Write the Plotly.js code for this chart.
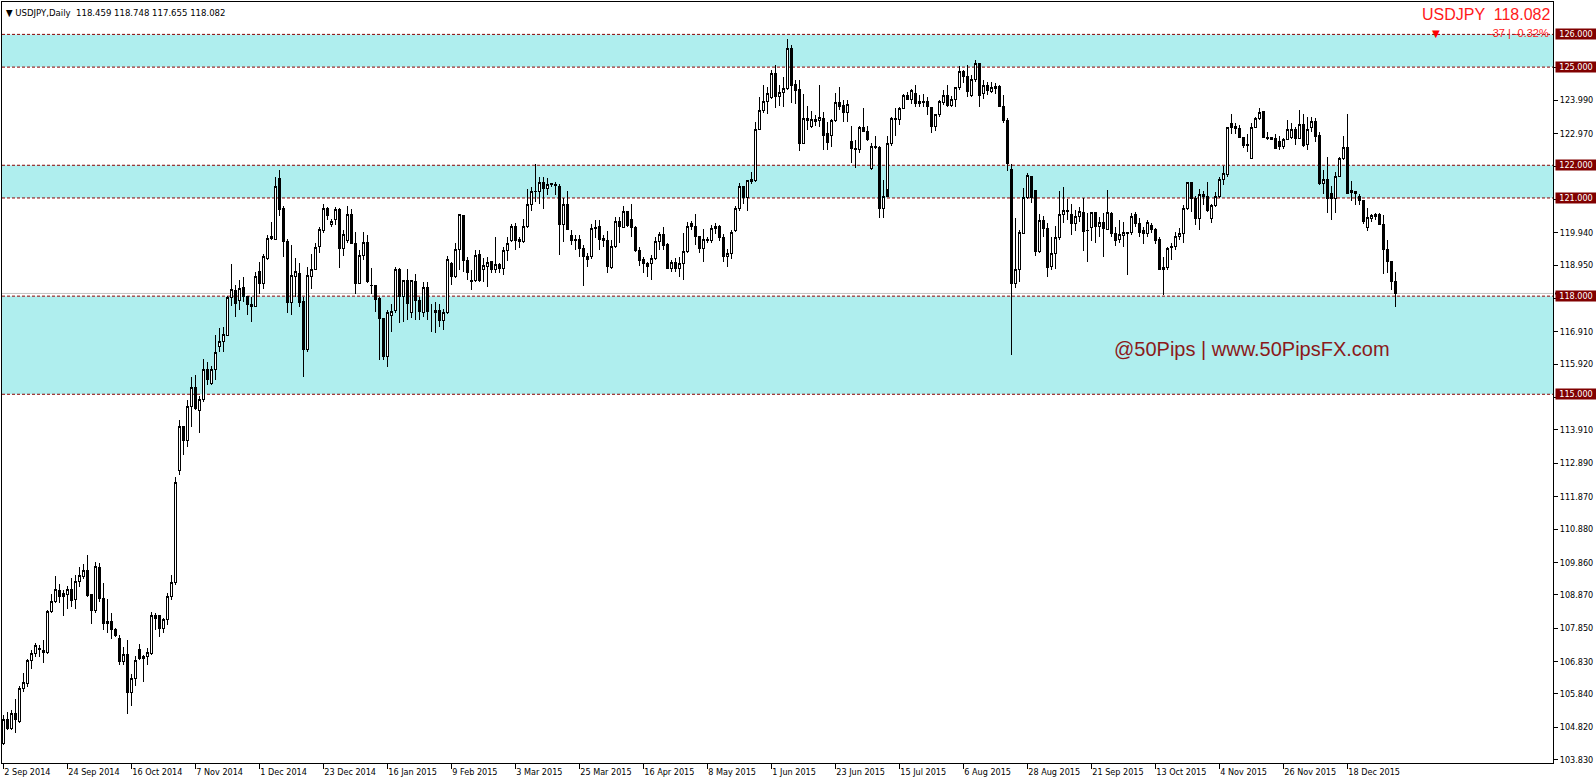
<!DOCTYPE html>
<html><head><meta charset="utf-8">
<script src="https://cdn.plot.ly/plotly-3.0.1.min.js"></script>
<style>
html,body{margin:0;padding:0;background:#fff;overflow:hidden;}
#chart{width:1596px;height:784px;}
path.box{shape-rendering:crispEdges;}
</style>
</head><body><div id="chart"></div>
<script>
// ---- OHLC values (USDJPY daily, 2 Sep 2014 - 7 Jan 2016) ----
const openP = [
104.33,105.06,104.79,105.25,104.99,106.01,106.16,106.85,107.08,107.20,
107.18,107.10,108.35,108.66,109.01,108.91,108.88,109.03,108.73,109.27,
109.44,109.61,108.88,108.40,109.71,108.76,107.99,108.07,107.81,107.54,
106.82,107.05,105.88,106.31,107.20,106.93,106.99,107.08,108.25,108.25,
107.84,108.12,108.83,109.24,112.66,114.03,113.58,114.62,115.21,114.50,
114.84,115.76,115.33,115.76,116.45,116.60,116.81,117.96,118.18,117.88,
118.27,117.98,117.73,117.68,118.75,118.39,119.15,119.77,119.73,121.60,
120.68,119.68,117.80,118.61,118.69,117.83,116.37,118.61,118.82,119.51,
120.02,120.68,120.20,120.34,120.65,119.46,119.71,120.51,119.61,118.39,
119.24,119.63,118.34,118.34,117.93,117.32,116.15,117.42,117.57,118.80,
117.98,118.49,117.49,118.44,117.88,117.49,118.27,117.52,117.50,117.57,
117.27,117.49,119.00,118.61,119.43,120.45,119.10,118.49,118.49,119.26,
118.80,118.92,119.05,118.82,118.97,118.84,119.39,119.71,120.14,119.74,
119.66,120.12,120.80,121.19,121.19,121.47,121.29,121.45,121.42,121.36,
120.19,120.81,119.84,119.74,119.74,119.46,119.22,119.20,120.07,120.14,
119.76,119.71,118.88,119.53,120.27,120.10,120.58,120.33,120.10,119.41,
119.12,119.00,119.00,119.15,119.66,119.89,119.59,118.85,119.02,118.85,
119.00,119.36,120.22,120.14,119.82,119.46,119.74,119.71,120.07,120.12,
119.80,119.20,119.30,120.02,120.68,121.36,121.02,121.50,121.52,123.10,
123.66,123.96,124.06,124.79,124.09,124.23,124.35,125.57,124.47,124.32,
122.67,123.43,123.20,123.33,123.38,123.43,122.97,122.92,123.36,123.91,
123.84,123.60,122.72,122.49,122.49,123.16,123.02,121.90,122.57,122.55,
120.68,121.04,122.67,123.43,123.40,123.74,124.13,124.01,124.18,123.89,
123.96,123.94,123.77,123.20,123.56,123.91,124.14,123.84,124.01,124.38,
124.86,124.71,124.14,124.62,125.11,124.20,124.45,124.25,124.40,124.42,
123.81,123.38,121.87,118.39,118.82,119.92,121.02,121.65,121.24,119.36,
120.32,120.07,118.90,119.29,119.80,120.51,120.63,120.51,120.22,120.43,
120.55,120.02,120.10,120.55,120.14,120.24,120.04,120.53,119.92,119.73,
119.84,119.92,119.94,120.48,120.22,120.02,119.92,120.17,120.04,119.73,
118.80,118.88,119.49,119.51,119.82,119.92,120.68,121.47,120.99,120.38,
121.12,121.06,120.38,120.76,121.04,121.57,121.73,123.28,123.18,123.13,
122.85,122.59,122.21,123.16,123.43,123.64,122.85,122.85,122.82,122.72,
122.57,122.79,122.85,123.10,122.82,123.26,122.62,123.16,123.33,122.92,
121.43,121.55,121.14,120.99,121.67,122.21,122.55,121.24,121.14,121.06,
120.92,120.10,120.38,120.43,120.51,120.20,119.43,119.05,118.459
];
const highP = [
105.19,105.30,105.35,105.70,106.08,106.47,106.90,107.18,107.40,107.33,
107.49,108.40,108.91,109.44,109.20,109.01,109.14,109.37,109.47,109.73,
109.81,110.08,108.91,109.88,109.83,109.22,108.73,108.30,107.86,107.64,
107.28,107.49,106.44,106.99,107.38,107.03,107.25,108.35,108.32,108.25,
108.15,108.93,109.47,112.46,114.21,114.03,114.84,115.53,115.59,114.94,
116.09,115.99,115.86,116.81,117.04,117.06,118.00,118.98,118.34,118.49,
118.57,117.98,117.98,118.75,119.05,119.30,119.87,120.27,121.65,121.85,
120.75,119.75,119.56,119.18,119.00,117.98,118.90,119.30,119.61,120.10,
120.81,120.73,120.37,120.73,120.68,120.02,120.75,120.65,119.97,119.41,
119.97,119.86,118.85,118.34,117.98,117.32,117.57,117.77,118.88,118.85,
118.49,118.82,118.49,118.69,117.98,118.44,118.44,117.75,117.83,117.75,
117.62,119.22,119.05,119.61,120.50,120.48,119.20,118.80,119.41,119.41,
119.18,119.20,119.08,119.82,119.02,119.51,119.80,120.20,120.22,119.80,
120.35,121.26,121.34,122.04,121.65,121.65,121.60,121.47,121.50,121.43,
120.99,121.22,120.02,119.87,119.87,119.56,119.33,120.20,120.33,120.33,
119.87,120.00,119.71,120.41,120.43,120.75,120.61,120.83,120.14,119.49,
119.20,119.05,119.26,119.82,119.97,120.10,119.61,119.10,119.18,119.20,
119.92,120.27,120.30,120.51,119.84,120.04,119.82,120.17,120.25,120.18,
119.90,119.45,120.02,120.75,121.47,121.36,121.53,121.78,123.33,124.09,
124.45,124.40,124.91,125.06,124.45,124.70,125.86,125.67,124.60,124.62,
124.18,123.81,123.67,123.53,124.45,123.64,123.33,123.40,124.22,124.38,
123.99,123.99,123.20,122.77,123.20,123.74,123.20,122.67,122.89,122.60,
121.56,122.89,123.46,123.74,123.77,124.18,124.25,124.32,124.45,124.14,
124.18,124.09,123.79,123.58,124.01,124.30,124.45,124.11,124.40,125.03,
124.91,125.06,124.76,125.23,125.11,124.60,124.55,124.55,124.52,124.45,
124.14,123.43,122.04,120.38,120.02,121.29,121.75,121.67,121.24,120.51,
120.45,120.24,119.82,120.14,121.22,121.34,120.96,120.83,120.63,120.71,
120.99,120.55,120.58,120.58,120.43,120.53,121.24,120.58,120.12,120.32,
120.27,119.97,120.55,120.58,120.38,120.12,120.32,120.24,120.07,119.82,
119.20,119.51,119.63,119.97,120.07,120.78,121.50,121.47,121.06,121.26,
121.22,121.50,120.83,121.19,121.65,121.98,123.18,123.58,123.28,123.23,
122.87,122.97,123.28,123.48,123.74,123.67,123.03,122.87,122.95,122.89,
122.82,123.38,123.28,123.18,123.69,123.56,123.48,123.46,123.43,123.03,
121.87,122.24,121.36,121.80,122.26,122.89,123.57,121.53,121.19,121.12,
120.92,120.68,120.51,120.55,120.55,120.48,119.71,119.08,118.748
];
const lowP = [
104.28,104.74,104.74,104.65,104.94,105.91,106.06,106.59,106.98,106.98,
106.79,107.06,108.30,108.61,108.61,108.22,108.45,108.51,108.45,109.12,
109.34,108.81,107.99,108.30,108.66,107.79,107.69,107.51,107.59,106.72,
106.72,105.23,105.47,106.08,106.88,106.21,106.72,107.03,107.79,107.59,
107.69,107.94,108.71,109.17,112.53,113.14,113.40,114.01,114.52,113.83,
114.77,115.28,115.28,115.43,116.30,116.30,116.78,117.69,117.35,117.57,
117.83,117.42,117.22,117.68,118.08,118.21,119.10,119.71,119.71,120.45,
119.20,117.47,117.42,117.98,117.68,115.54,116.30,118.23,118.80,119.31,
119.93,120.32,120.12,120.17,118.85,119.22,119.61,119.61,118.08,118.39,
119.10,118.39,118.08,117.52,116.06,116.04,115.84,116.91,117.49,117.17,
117.22,117.27,117.32,117.27,117.27,117.37,117.27,116.91,116.86,117.06,
116.98,117.45,118.34,118.54,118.80,118.75,118.49,118.18,118.44,118.44,
118.44,118.29,118.72,118.72,118.70,118.64,119.08,119.66,119.41,119.46,
119.61,120.07,120.61,120.88,120.83,120.65,121.09,121.34,121.09,119.26,
119.66,120.02,119.56,119.41,119.20,118.31,118.90,119.15,119.77,119.41,
119.51,118.72,118.82,119.46,119.61,120.07,120.10,119.82,119.36,118.92,
118.72,118.57,118.49,119.10,119.41,119.41,118.82,118.75,118.75,118.59,
118.49,119.31,120.02,119.56,119.31,119.05,119.61,119.61,119.90,119.70,
119.05,118.90,119.15,119.95,120.61,120.83,120.61,121.42,121.50,123.08,
123.61,123.58,124.03,123.74,123.81,123.77,124.30,123.89,123.87,122.44,
122.65,123.08,123.13,123.20,123.18,122.48,122.48,122.55,123.33,123.69,
123.33,123.33,122.08,121.93,122.36,123.02,122.75,121.85,122.50,120.40,
120.40,121.26,122.60,122.89,123.23,123.71,123.99,123.87,123.77,123.77,
123.77,123.53,122.99,123.05,123.48,123.84,123.79,123.79,123.79,124.30,
124.52,124.09,124.09,124.55,123.79,124.04,124.14,124.20,124.17,123.79,
123.30,121.83,116.20,118.24,118.44,119.90,120.96,120.85,119.23,119.31,
119.82,118.57,118.80,118.82,119.73,120.22,120.32,119.87,120.00,120.27,
119.39,119.05,119.69,119.63,119.82,119.20,120.02,119.82,119.53,119.61,
119.51,118.64,119.87,120.12,119.82,119.59,119.82,119.92,119.59,118.80,
118.03,118.80,119.10,119.41,119.73,119.61,120.63,120.58,120.17,120.02,
120.78,120.58,120.24,120.71,120.99,121.40,121.63,122.97,122.95,122.82,
122.52,122.41,122.18,123.13,123.38,122.82,122.77,122.77,122.49,122.46,
122.49,122.77,122.79,122.62,122.79,122.57,122.46,123.03,122.72,121.39,
121.12,120.53,120.33,120.55,121.63,122.16,121.12,120.92,120.78,120.78,
120.20,120.00,120.27,120.33,120.17,118.69,118.71,118.18,117.655
];
const closeP = [
105.06,104.79,105.25,105.06,106.01,106.18,106.85,107.08,107.31,107.24,
107.10,108.37,108.68,109.03,108.81,108.83,109.03,108.71,109.27,109.47,
109.61,108.86,108.40,109.73,108.76,107.99,108.07,107.81,107.64,106.82,
107.05,105.88,106.31,106.87,106.93,107.00,107.10,108.25,108.15,107.84,
108.12,108.83,109.24,112.29,114.03,113.58,114.64,115.21,114.57,114.84,
115.76,115.45,115.76,116.27,116.62,116.83,117.96,118.20,117.78,118.23,
117.98,117.73,117.68,118.61,118.39,119.20,119.76,119.82,121.36,120.65,
119.66,117.80,118.64,118.75,117.80,116.37,118.64,118.82,119.49,120.05,
120.68,120.45,120.27,120.65,119.46,119.89,120.51,119.61,118.39,119.24,
119.63,118.44,118.32,117.90,117.32,116.15,117.50,117.52,118.80,117.98,
118.49,117.78,118.49,117.88,117.52,118.27,117.52,117.52,117.57,117.27,
117.50,119.13,118.61,119.43,120.48,119.08,118.72,118.44,119.24,118.49,
118.95,119.02,118.82,118.97,118.84,119.41,119.61,120.14,119.69,119.66,
120.14,120.81,121.21,121.21,121.47,121.29,121.42,121.40,121.37,120.19,
120.81,120.04,119.69,119.71,119.46,119.20,119.12,120.07,120.10,119.74,
119.69,118.92,119.53,120.27,120.12,120.58,120.17,120.10,119.39,119.10,
119.00,118.92,119.15,119.66,119.89,119.56,118.85,119.02,118.85,119.00,
119.36,120.14,120.14,119.82,119.46,119.74,119.69,120.07,120.12,119.80,
119.20,119.30,119.95,120.68,121.36,121.02,121.53,121.55,123.10,123.66,
123.96,124.18,124.79,124.09,124.23,124.35,125.57,124.45,124.30,122.67,
123.43,123.36,123.40,123.40,123.45,122.92,122.69,123.38,123.91,123.81,
123.60,123.86,122.52,122.52,123.16,123.02,122.79,122.57,122.55,120.68,
121.04,122.67,123.43,123.40,123.74,124.13,124.01,124.27,123.89,123.96,
123.91,123.79,123.20,123.56,123.94,124.14,123.84,124.01,124.38,124.86,
124.71,124.25,124.62,125.11,124.14,124.45,124.30,124.38,124.35,123.81,
123.38,122.04,118.39,118.82,119.94,121.02,121.70,121.02,119.36,120.32,
120.07,118.88,119.29,119.80,120.51,120.63,120.58,120.22,120.43,120.58,
119.97,120.00,120.55,120.12,120.24,120.07,120.55,119.92,119.71,119.87,
119.94,119.94,120.43,120.22,119.94,119.92,120.24,120.04,119.71,118.80,
118.88,119.46,119.51,119.82,119.92,120.68,121.47,120.99,120.38,121.12,
121.04,120.61,120.76,121.06,121.57,121.75,123.16,123.16,123.13,122.85,
122.59,122.62,123.16,123.43,123.61,122.85,122.82,122.79,122.52,122.57,
122.79,123.10,123.10,122.82,123.26,122.59,123.10,123.33,122.89,121.43,
121.55,120.99,120.99,121.67,122.21,122.55,121.14,121.16,121.19,120.92,
120.27,120.41,120.45,120.51,120.20,119.43,119.05,118.44,118.082
];
// axis labels
const dateLabels = ["2 Sep 2014","24 Sep 2014","16 Oct 2014","7 Nov 2014","1 Dec 2014","23 Dec 2014",
  "16 Jan 2015","9 Feb 2015","3 Mar 2015","25 Mar 2015","16 Apr 2015","8 May 2015","1 Jun 2015",
  "23 Jun 2015","15 Jul 2015","6 Aug 2015","28 Aug 2015","21 Sep 2015","13 Oct 2015","4 Nov 2015",
  "26 Nov 2015","18 Dec 2015"];
const priceTicks = [103.83,104.82,105.84,106.83,107.85,108.87,109.86,110.88,111.87,112.89,113.91,
  114.90,115.92,116.91,117.93,118.95,119.94,120.96,121.95,122.97,123.99,124.98];
const zones = [[125,126],[121,122],[115,118]];
const levels = [126,125,122,121,118,115];
const lastPrice = 118.082;
const headerText = "USDJPY,Daily  118.459 118.748 117.655 118.082";
const changeText = "-37 | -0.32%";
const watermark = "@50Pips | www.50PipsFX.com";

// trading days (weekdays, without 25 Dec / 1 Jan)
const holidays = new Set(["2014-12-25","2015-01-01","2015-12-25","2016-01-01"]);
const dates = [];
{ let d = new Date(Date.UTC(2014,8,2));
  while (dates.length < closeP.length) {
    const wd = d.getUTCDay(); const s = d.toISOString().slice(0,10);
    if (wd !== 0 && wd !== 6 && !holidays.has(s)) dates.push(s);
    d.setUTCDate(d.getUTCDate()+1);
  } }
const xIdx = dates.map((_, i) => i);
const labelIdx = dateLabels.map((_, k) => k * 16);

const F = 'Tahoma, "DejaVu Sans Condensed", "Liberation Sans", sans-serif';

// tick labels hidden under the level boxes are left blank
const tickText = priceTicks.map(v => levels.some(l => Math.abs(l - v) < 0.12) ? '' : v.toFixed(3));

const shapes = [];
zones.forEach(z => shapes.push({type:'rect', xref:'paper', yref:'y', x0:0, x1:1, y0:z[0], y1:z[1],
  fillcolor:'#AFEEEE', line:{width:0}, layer:'below'}));
shapes.push({type:'line', xref:'paper', yref:'y', x0:0, x1:1, y0:lastPrice, y1:lastPrice,
  line:{color:'#C0C0C0', width:1}, layer:'below'});
levels.forEach(v => shapes.push({type:'line', xref:'paper', yref:'y', x0:0, x1:1, y0:v, y1:v,
  line:{color:'#8B0000', width:1, dash:'3px,2px'}, layer:'below'}));
// current price marker edge on axis
shapes.push({type:'rect', xref:'paper', yref:'y', x0:1+2/1551, x1:1+43/1551, y0:lastPrice-0.03, y1:lastPrice+0.03,
  fillcolor:'#000', line:{width:0}});

const annotations = [];
levels.forEach(v => annotations.push({xref:'paper', yref:'y', x:1, y:v, xanchor:'left', yanchor:'middle',
  xshift:2, text:v.toFixed(3), showarrow:false, bgcolor:'#800000', width:40, height:10, borderpad:0,
  align:'center', valign:'middle', font:{family:F, size:9, color:'#fff'}}));
annotations.push({xref:'paper', yref:'paper', x:0, y:1, xanchor:'left', yanchor:'top', xshift:2, yshift:-3,
  text:'▼ ' + headerText, showarrow:false, font:{family:F, size:9.5, color:'#000'}});
annotations.push({xref:'paper', yref:'paper', x:1, y:1, xanchor:'right', yanchor:'top', xshift:-1, yshift:-2,
  text:'USDJPY  ' + lastPrice.toFixed(3), showarrow:false,
  font:{family:'"Liberation Sans", Arial, sans-serif', size:16, color:'#FF1A1A'}});
annotations.push({xref:'paper', yref:'y', x:1, y:126, xanchor:'right', yanchor:'middle', xshift:-2, yshift:1,
  text:changeText, showarrow:false, font:{family:'"Liberation Sans", Arial, sans-serif', size:11, color:'#FF1A1A'}});
annotations.push({xref:'paper', yref:'y', x:(1436-2)/1551, y:126, xanchor:'center', yanchor:'middle', yshift:1,
  text:'▼', showarrow:false, font:{family:'"DejaVu Sans", sans-serif', size:10, color:'#FF0000'}});
annotations.push({xref:'paper', yref:'paper', x:(1112-2)/1551, y:1-(349-2)/761, xanchor:'left', yanchor:'middle',
  text:watermark, showarrow:false, font:{family:'"Liberation Sans", Arial, sans-serif', size:20, color:'#8B1A1A'}});

const trace = {
  type:'candlestick', x:xIdx, open:openP, high:highP, low:lowP, close:closeP, text:dates,
  increasing:{line:{color:'#000000', width:1}, fillcolor:'#FFFFFF'},
  decreasing:{line:{color:'#000000', width:1}, fillcolor:'#000000'},
  whiskerwidth:0, hoverinfo:'x+text', showlegend:false
};

const layout = {
  width:1596, height:784, margin:{l:2, r:43, t:2, b:21, pad:0},
  paper_bgcolor:'#FFFFFF', plot_bgcolor:'#FFFFFF', boxgap:0.5, showlegend:false,
  font:{family:F, size:9, color:'#000'},
  xaxis:{type:'linear', range:[-0.325, 387.425], showgrid:false, zeroline:false,
    showline:true, mirror:true, linecolor:'#000', linewidth:1,
    ticks:'outside', ticklen:5, tickwidth:1, tickcolor:'#000',
    tickvals:labelIdx, ticktext:dateLabels, ticklabelposition:'outside right',
    tickfont:{family:F, size:9, color:'#000'}, rangeslider:{visible:false}, fixedrange:true},
  yaxis:{side:'right', range:[103.73, 126.99], showgrid:false, zeroline:false,
    showline:true, mirror:true, linecolor:'#000', linewidth:1,
    ticks:'outside', ticklen:4, tickwidth:1, tickcolor:'#000',
    tickvals:priceTicks, ticktext:tickText,
    tickfont:{family:F, size:9, color:'#000'}, fixedrange:true},
  shapes:shapes, annotations:annotations
};

Plotly.newPlot('chart', [trace], layout, {displayModeBar:false, staticPlot:true});
</script>
</body></html>
